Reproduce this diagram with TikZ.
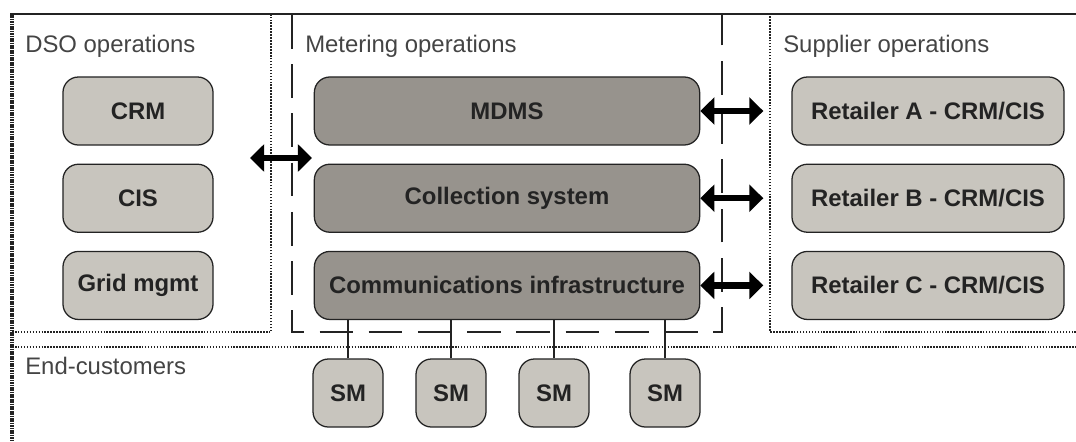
\documentclass[tikz,border=0pt]{standalone}
\usepackage{fontspec}
\setmainfont{Liberation Sans}
\usetikzlibrary{positioning,arrows.meta}
\definecolor{boxlight}{RGB}{200,197,190}
\definecolor{boxdark}{RGB}{151,147,141}
\definecolor{inkgrey}{RGB}{35,35,35}
\begin{document}
\begin{tikzpicture}[x=0.025cm, y=-0.025cm, node distance=2.18cm, auto,
  lbox/.style={draw=inkgrey, fill=boxlight, rounded corners=11pt, line width=0.9pt,
    font=\fontsize{17}{20}\selectfont\bfseries, text=inkgrey, minimum height=1.7cm, inner sep=0pt},
  dbox/.style={lbox, fill=boxdark},
  region/.style={font=\fontsize{17}{20}\selectfont, text=inkgrey!85, anchor=base west, inner sep=0pt},
  dotline/.style={inkgrey, line width=1pt, dash pattern=on 1.1pt off 1pt},
  biarrow/.style={{Triangle[width=19pt,length=10pt]}-{Triangle[width=19pt,length=10pt]}, line width=4.6pt, black}]
\useasboundingbox (0,0) rectangle (1076,441);
% frames
\draw[inkgrey, line width=1.5pt] (10,14) -- (1076,14);
\draw[inkgrey, line width=2.2pt, dash pattern=on 1.2pt off 0.5pt] (12,14) -- (12,441);
\draw[dotline] (12,332) -- (271,332) -- (271,15);
\draw[inkgrey, line width=1pt, dash pattern=on 24pt off 11pt] (292,15) -- (292,332) -- (722,332) -- (722,15);
\draw[dotline] (1076,332) -- (770,332) -- (770,15);
\draw[dotline] (12,347) -- (1076,347);
\node[region] (r1) at (25,52) {DSO operations};
\node[region] (r2) at (305,52) {Metering operations};
\node[region] (r3) at (783,52) {Supplier operations};
\node[region] (r4) at (25,374) {End-customers};
% DSO
\node[lbox, minimum width=3.75cm] (1) at (138,111) {CRM};
\node[lbox, minimum width=3.75cm, below of=1] (2) {CIS};
\node[lbox, minimum width=3.75cm, below of=2] (3) {Grid mgmt};
% metering
\node[dbox, minimum width=9.63cm] (4) at (507,111) {MDMS};
\node[dbox, minimum width=9.63cm, below of=4] (5) {Collection system};
\node[dbox, minimum width=9.63cm, below of=5] (6) {Communications infrastructure};
% suppliers
\node[lbox, minimum width=6.8cm] (7) at (928,111) {Retailer A - CRM/CIS};
\node[lbox, minimum width=6.8cm, below of=7] (8) {Retailer B - CRM/CIS};
\node[lbox, minimum width=6.8cm, below of=8] (9) {Retailer C - CRM/CIS};
% smart meters
\node[lbox, minimum width=1.75cm] (10) at (348,393) {SM};
\node[lbox, minimum width=1.75cm] (11) at (451,393) {SM};
\node[lbox, minimum width=1.75cm] (12) at (554,393) {SM};
\node[lbox, minimum width=1.75cm] (13) at (665,393) {SM};
\foreach \m in {10,11,12,13}
  \draw[inkgrey, line width=0.9pt] (\m) -- (\m |- 6.south);
% exchanges
\coordinate (dsoend) at (250,158);
\coordinate (metend) at (312,158);
\draw[biarrow] (dsoend) -- (metend);
\draw[biarrow, shorten >=0.7cm] (4) -- (7);
\draw[biarrow, shorten >=0.7cm] (5) -- (8);
\draw[biarrow, shorten >=0.7cm] (6) -- (9);
\end{tikzpicture}
\end{document}
